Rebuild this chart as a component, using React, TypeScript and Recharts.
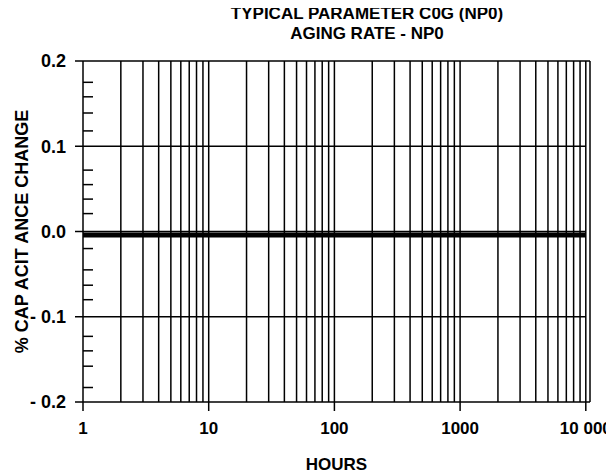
import React from "react"
import { LineChart, Line, XAxis, YAxis, ReferenceLine } from "recharts"

// hours (log scale) and measured % capacitance change
const hours = [1, 10, 100, 1000, 10000]
const capChange = [-0.004, -0.004, -0.004, -0.004, -0.004]

const xTicks = [1, 10, 100, 1000, 10000]
const xTickLabels = ["1", "10", "100", "1000", "10 000"]
const yTicks = [-0.2, -0.1, 0, 0.1, 0.2]
const yTickLabels = ["- 0.2", "- 0.1", "0.0", "0.1", "0.2"]
const yMinorTicks = [
  0.175, 0.158, 0.139, 0.118, 0.072, 0.055, 0.038, 0.021,
  -0.02, -0.045, -0.063, -0.08, -0.123, -0.14, -0.158, -0.183,
]
const xGrid = [
  2, 3, 4, 5, 6, 7, 8, 9, 10,
  20, 30, 40, 50, 60, 70, 80, 90, 100,
  200, 300, 400, 500, 600, 700, 800, 900, 1000,
  2000, 3000, 4000, 5000, 6000, 7000, 8000, 9000, 10000,
]
const yGrid = [0.1, 0, -0.1]
const xMax = 10800

const data = hours.map((h, i) => ({ h, v: capChange[i] }))

const FONT = "'Liberation Sans', Arial, sans-serif"
const INK = "#000"
const Y_TICK = 8
const Y_MARGIN = 9
const MINOR_LEN = 10

const tickStyle = { fontFamily: FONT, fontWeight: 700, fontSize: 18, fill: INK }

// major ticks point outward with a label, minor ticks point into the plot
function YTick(props: any) {
  const { x, y, payload } = props
  const axisX = x + Y_MARGIN + Y_TICK
  const idx = yTicks.indexOf(payload.value)
  if (idx < 0) {
    return <line x1={axisX} x2={axisX + MINOR_LEN} y1={y} y2={y} stroke={INK} strokeWidth={1.5} />
  }
  return (
    <g>
      <line x1={axisX - Y_TICK} x2={axisX} y1={y} y2={y} stroke={INK} strokeWidth={1.5} />
      <text x={x} y={y} dy="0.355em" textAnchor="end" style={tickStyle}>
        {yTickLabels[idx]}
      </text>
    </g>
  )
}

export default function App() {
  return (
    <div style={{ position: "relative", width: 606, height: 466, fontFamily: FONT }}>
      {/* no page scroll, and let the last tick label run past the svg edge */}
      <style>{"body{overflow:hidden} .recharts-surface{overflow:visible}"}</style>
      <div
        style={{
          position: "absolute",
          left: 159,
          width: 400,
          top: -4,
          textAlign: "center",
          fontWeight: 700,
          fontSize: 17,
          lineHeight: "20px",
          color: INK,
        }}
      >
        <div>TYPICAL PARAMETER C0G (NP0)</div>
        <div>AGING RATE - NP0</div>
      </div>
      <LineChart width={606} height={466} data={data} margin={{ top: 53, right: 24, left: 0, bottom: 0 }}>
        <XAxis
          dataKey="h"
          type="number"
          scale="log"
          domain={[1, xMax]}
          allowDataOverflow
          ticks={xTicks}
          tickFormatter={(v: number) => xTickLabels[xTicks.indexOf(v)] ?? ""}
          tick={{ ...tickStyle, fontSize: 17 }}
          tickSize={9}
          tickMargin={11}
          height={72}
          interval={0}
          axisLine={{ stroke: INK, strokeWidth: 1.5 }}
          tickLine={{ stroke: INK, strokeWidth: 1.5 }}
          label={{ value: "HOURS", position: "insideBottom", offset: 4, style: { ...tickStyle, fontSize: 17 } }}
        />
        <YAxis
          type="number"
          domain={[-0.2, 0.2]}
          ticks={[...yTicks, ...yMinorTicks]}
          interval={0}
          tick={<YTick />}
          tickLine={false}
          tickSize={Y_TICK}
          tickMargin={Y_MARGIN}
          width={75}
          axisLine={{ stroke: INK, strokeWidth: 1.5 }}
          label={{
            value: "% CAP ACIT ANCE CHANGE",
            angle: -90,
            position: "insideLeft",
            offset: 14,
            style: { ...tickStyle, fontSize: 18, textAnchor: "middle" },
          }}
        />
        {xGrid.map((x) => (
          <ReferenceLine key={"vx" + x} x={x} stroke={INK} strokeWidth={1.5} />
        ))}
        {yGrid.map((y) => (
          <ReferenceLine
            key={"hy" + y}
            segment={[{ x: 1, y }, { x: 10000, y }]}
            stroke={INK}
            strokeWidth={1.5}
          />
        ))}
        <ReferenceLine y={0.2} stroke={INK} strokeWidth={1.5} />
        <ReferenceLine x={xMax} stroke={INK} strokeWidth={1.5} />
        <Line
          dataKey="v"
          stroke={INK}
          strokeWidth={5}
          dot={false}
          isAnimationActive={false}
        />
      </LineChart>
    </div>
  )
}
